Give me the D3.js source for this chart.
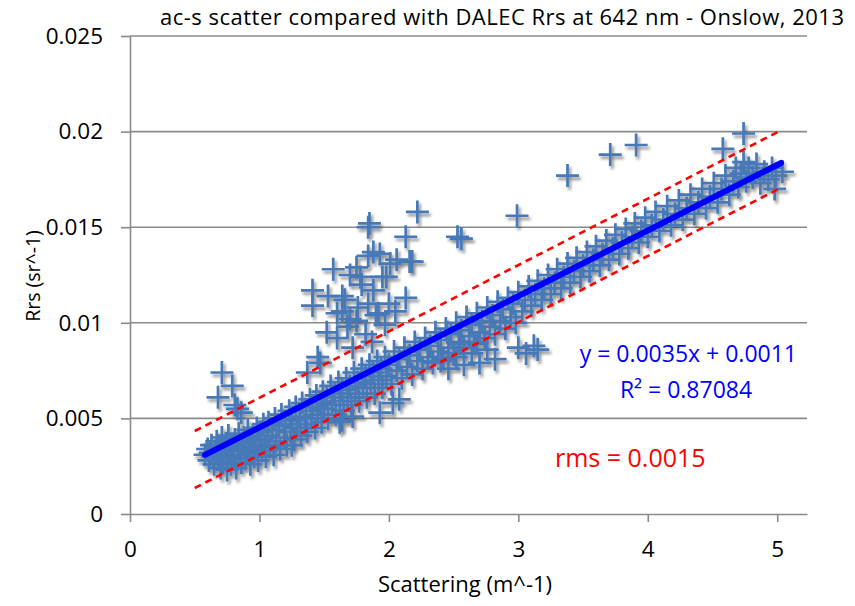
<!DOCTYPE html>
<html>
<head>
<meta charset="utf-8">
<script src="https://cdn.jsdelivr.net/npm/d3@7"></script>
<style>
  body { margin: 0; background: #fff; }
  text { font-family: "Open Sans", "Noto Sans", sans-serif; }
</style>
</head>
<body>
<svg></svg>
<script>
const size = { w: 855, h: 606 };
const plot = { l: 130, r: 807, t: 36, b: 514 };

// axis ticks
const xTicks = [0, 1, 2, 3, 4, 5];
const yTicks = [0, 0.005, 0.01, 0.015, 0.02, 0.025];

const bandPoints = [
	[0.58,0.0031],[0.60,0.0034],[0.61,0.0028],[0.62,0.0032],[0.63,0.0036],[0.64,0.0030],[0.65,0.0026],[0.66,0.0033],
	[0.67,0.0038],[0.68,0.0029],[0.69,0.0035],[0.70,0.0024],[0.70,0.0031],[0.71,0.0040],[0.72,0.0027],[0.73,0.0034],
	[0.74,0.0037],[0.75,0.0023],[0.75,0.0030],[0.76,0.0041],[0.77,0.0033],[0.78,0.0026],[0.79,0.0036],[0.80,0.0029],
	[0.81,0.0039],[0.82,0.0024],[0.83,0.0034],[0.84,0.0042],[0.85,0.0031],[0.86,0.0027],[0.87,0.0037],[0.88,0.0040],
	[0.89,0.0029],[0.90,0.0034],[0.91,0.0044],[0.92,0.0032],[0.93,0.0026],[0.94,0.0038],[0.95,0.0041],[0.96,0.0030],
	[0.97,0.0035],[0.98,0.0045],[0.99,0.0028],[1.00,0.0039],[1.01,0.0043],[1.02,0.0033],[1.03,0.0047],[1.04,0.0036],
	[1.05,0.0030],[1.06,0.0041],[1.07,0.0048],[1.08,0.0035],[1.10,0.0044],[1.11,0.0031],[1.12,0.0050],[1.13,0.0038],
	[1.15,0.0046],[1.16,0.0034],[1.17,0.0052],[1.19,0.0040],[1.20,0.0047],[1.21,0.0036],[1.23,0.0054],[1.24,0.0043],
	[1.25,0.0049],[1.27,0.0039],[1.28,0.0056],[1.29,0.0045],[1.31,0.0051],[1.32,0.0041],[1.33,0.0058],[1.35,0.0047],
	[1.36,0.0054],[1.37,0.0043],[1.39,0.0060],[1.40,0.0050],[1.41,0.0056],[1.43,0.0045],[1.44,0.0062],[1.45,0.0052],
	[1.47,0.0058],[1.48,0.0048],[1.49,0.0064],[1.50,0.0055],[1.52,0.0061],[1.53,0.0050],[1.55,0.0067],[1.56,0.0057],
	[1.58,0.0063],[1.59,0.0052],[1.61,0.0069],[1.62,0.0059],[1.64,0.0065],[1.65,0.0054],[1.67,0.0071],[1.68,0.0061],
	[1.70,0.0067],[1.71,0.0057],[1.73,0.0074],[1.74,0.0063],[1.76,0.0069],[1.77,0.0059],[1.79,0.0076],[1.80,0.0066],
	[1.82,0.0072],[1.83,0.0061],[1.85,0.0078],[1.86,0.0068],[1.88,0.0074],[1.89,0.0063],[1.91,0.0080],[1.92,0.0070],
	[1.94,0.0076],[1.95,0.0066],[1.97,0.0082],[1.98,0.0072],[2.00,0.0078],[2.02,0.0068],[2.04,0.0085],[2.06,0.0075],
	[2.08,0.0081],[2.10,0.0071],[2.12,0.0087],[2.14,0.0077],[2.16,0.0083],[2.18,0.0073],[2.20,0.0090],[2.22,0.0080],
	[2.24,0.0086],[2.26,0.0076],[2.28,0.0092],[2.30,0.0082],[2.32,0.0088],[2.34,0.0079],[2.36,0.0095],[2.38,0.0085],
	[2.40,0.0091],[2.42,0.0081],[2.44,0.0097],[2.46,0.0087],[2.48,0.0094],[2.50,0.0084],[2.52,0.0100],[2.54,0.0090],
	[2.56,0.0096],[2.58,0.0087],[2.60,0.0103],[2.62,0.0093],[2.64,0.0099],[2.66,0.0089],[2.68,0.0105],[2.70,0.0095],
	[2.72,0.0101],[2.74,0.0092],[2.76,0.0108],[2.78,0.0098],[2.80,0.0104],[2.82,0.0094],[2.84,0.0111],[2.86,0.0101],
	[2.88,0.0107],[2.90,0.0097],[2.92,0.0113],[2.94,0.0103],[2.96,0.0110],[2.98,0.0100],[3.00,0.0116],[3.03,0.0106],
	[3.05,0.0112],[3.08,0.0119],[3.10,0.0109],[3.13,0.0115],[3.15,0.0122],[3.18,0.0112],[3.20,0.0118],[3.23,0.0125],
	[3.25,0.0115],[3.28,0.0121],[3.30,0.0128],[3.33,0.0118],[3.35,0.0124],[3.38,0.0131],[3.40,0.0121],[3.43,0.0127],
	[3.45,0.0134],[3.48,0.0124],[3.50,0.0130],[3.53,0.0137],[3.55,0.0127],[3.58,0.0133],[3.60,0.0140],[3.63,0.0130],
	[3.65,0.0136],[3.68,0.0143],[3.70,0.0133],[3.73,0.0139],[3.75,0.0146],[3.78,0.0136],[3.80,0.0142],[3.83,0.0149],
	[3.85,0.0139],[3.88,0.0145],[3.90,0.0152],[3.93,0.0142],[3.95,0.0148],[3.98,0.0155],[4.00,0.0145],[4.03,0.0151],
	[4.06,0.0158],[4.09,0.0148],[4.12,0.0154],[4.15,0.0161],[4.18,0.0151],[4.21,0.0157],[4.24,0.0164],[4.27,0.0154],
	[4.30,0.0160],[4.33,0.0167],[4.36,0.0157],[4.39,0.0163],[4.42,0.0170],[4.45,0.0160],[4.48,0.0166],[4.51,0.0173],
	[4.54,0.0163],[4.57,0.0170],[4.60,0.0177],[4.63,0.0167],[4.66,0.0174],[4.68,0.0181],[4.70,0.0171],[4.72,0.0178],
	[4.74,0.0184],[4.76,0.0174],[4.78,0.0181],[4.81,0.0176],[4.84,0.0183],[4.87,0.0173],[4.90,0.0179],[4.93,0.0175],
	[4.96,0.0181],[4.99,0.0177],[5.04,0.0179],[4.98,0.0170]
];

// points lying off the main band
const outlierPoints = [
	[1.52,0.0095],[1.60,0.0092],[1.68,0.0098],[1.75,0.0101],[1.82,0.0094],[1.90,0.0104],[1.97,0.0099],[2.05,0.0106],
	[1.87,0.0090],[1.72,0.0087],[1.60,0.0105],[1.70,0.0102],[1.76,0.0108],[1.92,0.0105],[2.00,0.0110],
	[2.40,0.0080],[2.46,0.0076],[2.52,0.0082],[2.58,0.0078],[2.64,0.0084],[2.70,0.0079],[2.76,0.0086],[2.82,0.0081],
	[2.55,0.0089],[2.68,0.0090],[3.00,0.0087],[3.06,0.0084],[3.12,0.0088],[3.15,0.0086],[2.45,0.0095],
	[1.64,0.0049],[2.03,0.0058],[2.08,0.0060],[1.72,0.0051],[1.93,0.0053],[1.62,0.0048],
	[1.41,0.0117],[1.41,0.0109],[1.53,0.0114],[1.57,0.0128],[1.64,0.0114],[1.66,0.0112],[1.64,0.0106],[1.70,0.0125],
	[1.75,0.0129],[1.78,0.0124],[1.79,0.0120],[1.84,0.0135],[1.84,0.0150],[1.84,0.0110],[1.85,0.0152],[1.88,0.0137],
	[1.88,0.0117],[1.93,0.0136],[1.95,0.0124],[1.98,0.0124],[2.01,0.0131],[2.06,0.0133],[2.13,0.0145],[2.13,0.0113],
	[2.16,0.0132],[2.18,0.0132],[2.22,0.0158],[2.53,0.0145],[2.56,0.0144],[2.99,0.0156],[3.38,0.0177],[3.71,0.0188],
	[3.91,0.0193],[4.58,0.0191],[4.74,0.0199],[1.45,0.0082],[1.47,0.0079],[1.37,0.0074],[0.71,0.0074],[0.79,0.0067],
	[0.68,0.0061],[0.83,0.0055],[0.86,0.0053],[0.81,0.0057],[1.25,0.0036]
];

// linear fit and the +/- rms band (end points)
const trendLine = [[0.58, 0.00309], [5.03, 0.01836]];
const upperBound = [[0.50, 0.00434], [5.01, 0.0200]];
const lowerBound = [[0.50, 0.00136], [5.01, 0.0170]];

const titleText = "ac-s scatter compared with DALEC Rrs at 642 nm - Onslow, 2013";
const xTitle = "Scattering (m^-1)";
const yTitle = "Rrs (sr^-1)";

const svg = d3.select("svg").attr("width", size.w).attr("height", size.h);

const x = d3.scaleLinear().domain([0, 5.23]).range([plot.l, plot.r]);
const y = d3.scaleLinear().domain([0, 0.025]).range([plot.b, plot.t]);

const gridColor = "#8a8a8a";

// drop shadow like the spreadsheet markers
const defs = svg.append("defs");
defs.append("filter").attr("id", "shadow")
	.attr("x", "-10%").attr("y", "-10%").attr("width", "130%").attr("height", "130%")
	.append("feDropShadow")
	.attr("dx", 2).attr("dy", 3).attr("stdDeviation", 1.8)
	.attr("flood-color", "#000").attr("flood-opacity", 0.45);

// horizontal gridlines
svg.append("g").selectAll("line")
	.data(yTicks.slice(1))
	.join("line")
	.attr("x1", plot.l).attr("x2", plot.r)
	.attr("y1", (d) => y(d)).attr("y2", (d) => y(d))
	.attr("stroke", gridColor).attr("stroke-width", 1.6);

// axes
const yAxis = svg.append("g")
	.attr("transform", `translate(${plot.l},0)`)
	.call(d3.axisLeft(y).tickValues(yTicks).tickSize(9).tickSizeOuter(0).tickPadding(18)
		.tickFormat((d) => (d === 0 ? "0" : String(+d.toFixed(3)))));

const xAxis = svg.append("g")
	.attr("transform", `translate(0,${plot.b})`)
	.call(d3.axisBottom(x).tickValues(xTicks).tickSize(8).tickSizeOuter(0).tickPadding(19)
		.tickFormat(d3.format("d")));

[yAxis, xAxis].forEach((g) => {
	g.select(".domain").attr("stroke", gridColor).attr("stroke-width", 1.6);
	g.selectAll(".tick line").attr("stroke", gridColor).attr("stroke-width", 1.6);
	g.selectAll(".tick text").attr("font-size", 22.5).attr("fill", "#000")
		.style("font-family", '"Open Sans", sans-serif');
});

// scatter markers as "+" crosses
const arm = 11.5;
const allPoints = bandPoints.concat(outlierPoints);
const marks = svg.append("g").attr("filter", "url(#shadow)");
marks.selectAll("path")
	.data(allPoints)
	.join("path")
	.attr("d", (d) => {
		const px = x(d[0]), py = y(d[1]);
		return `M${px - arm},${py}H${px + arm}M${px},${py - arm}V${py + arm}`;
	})
	.attr("stroke", "#4679b8")
	.attr("stroke-width", 2.7)
	.attr("fill", "none");

// fit and rms band
const line = d3.line().x((d) => x(d[0])).y((d) => y(d[1]));
svg.append("path").attr("d", line(upperBound))
	.attr("stroke", "#ff0000").attr("stroke-width", 2.6).attr("stroke-dasharray", "7,5").attr("fill", "none");
svg.append("path").attr("d", line(lowerBound))
	.attr("stroke", "#ff0000").attr("stroke-width", 2.6).attr("stroke-dasharray", "7,5").attr("fill", "none");
svg.append("path").attr("d", line(trendLine))
	.attr("stroke", "#0000ff").attr("stroke-width", 6).attr("stroke-linecap", "round").attr("fill", "none");

// labels
svg.append("text").attr("x", 502).attr("y", 25).attr("text-anchor", "middle")
	.attr("font-size", 22).attr("textLength", 684).text(titleText);
svg.append("text").attr("x", 465).attr("y", 592).attr("text-anchor", "middle")
	.attr("font-size", 22).text(xTitle);
svg.append("text").attr("transform", "translate(40,276) rotate(-90)").attr("text-anchor", "middle")
	.attr("font-size", 19.5).text(yTitle);

const eq = svg.append("g").attr("fill", "#0000ff").attr("font-size", 23);
eq.append("text").attr("x", 797).attr("y", 362).attr("text-anchor", "end").text("y = 0.0035x + 0.0011");
eq.append("text").attr("x", 686).attr("y", 398).attr("text-anchor", "middle").text("R² = 0.87084");

svg.append("text").attr("x", 555).attr("y", 467).attr("fill", "#ff0000").attr("font-size", 25)
	.text("rms = 0.0015");
</script>
</body>
</html>
